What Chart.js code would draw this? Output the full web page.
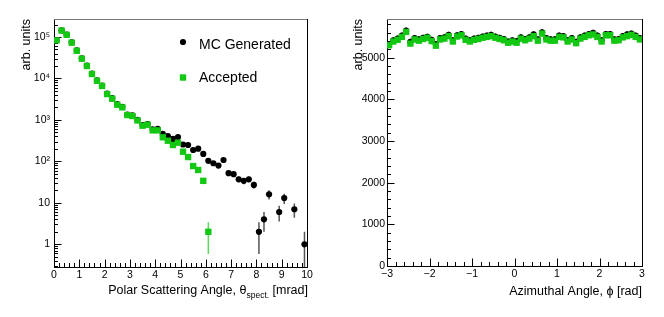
<!DOCTYPE html>
<html>
<head>
<meta charset="utf-8">
<script src="https://cdn.jsdelivr.net/npm/chart.js@4.4.0/dist/chart.umd.min.js"></script>
<style>
  html, body { margin: 0; padding: 0; background: #fff; }
  #wrap { position: relative; width: 664px; height: 317px; }
  .pane { position: absolute; top: 0; width: 332px; height: 317px; }
</style>
</head>
<body>
<div id="wrap">
  <div class="pane" style="left:0"><canvas id="polar"></canvas></div>
  <div class="pane" style="left:332px"><canvas id="phi"></canvas></div>
</div>
<script>
// polar scattering angle, 0.2 mrad bins
const polarCenters = [0.1,0.3,0.5,0.7,0.9,1.1,1.3,1.5,1.7,1.9,2.1,2.3,2.5,2.7,2.9,3.1,3.3,3.5,3.7,3.9,
  4.1,4.3,4.5,4.7,4.9,5.1,5.3,5.5,5.7,5.9,6.1,6.3,6.5,6.7,6.9,7.1,7.3,7.5,7.7,7.9,
  8.1,8.3,8.5,8.7,8.9,9.1,9.3,9.5,9.7,9.9];
const polarGenerated = [84000,145000,115000,74500,47500,30700,20500,13100,9000,6750,
  4320,3340,2400,2070,1350,1280,1005,750,795,590,
  610,460,409,347,385,255,248,188,202,151,
  103,90,79,108,52,49,37,34,37,27,
  2,4,16,null,6,13,null,7,null,1];
const polarAccepted = [83000,143000,113000,73000,46500,30000,20000,12800,8800,6600,
  4200,3250,2330,2010,1310,1240,970,725,767,560,
  560,381,315,248,282,171,127,77,62,34,
  2,null,null,null,null,null,null,null,null,null,
  null,null,null,null,null,null,null,null,null,null];
const polarXTicks = [0,1,2,3,4,5,6,7,8,9,10];
const polarYTicks = [1,10,100,1000,10000,100000];
const polarYLabels = ['1','10','10\u00b2','10\u00b3','10\u2074','10\u2075'];

// azimuthal angle, 0.1 rad bins
const phiCenters = [-2.95,-2.85,-2.75,-2.65,-2.55,-2.45,-2.35,-2.25,-2.15,-2.05,
  -1.95,-1.85,-1.75,-1.65,-1.55,-1.45,-1.35,-1.25,-1.15,-1.05,
  -0.95,-0.85,-0.75,-0.65,-0.55,-0.45,-0.35,-0.25,-0.15,-0.05,
  0.05,0.15,0.25,0.35,0.45,0.55,0.65,0.75,0.85,0.95,
  1.05,1.15,1.25,1.35,1.45,1.55,1.65,1.75,1.85,1.95,
  2.05,2.15,2.25,2.35,2.45,2.55,2.65,2.75,2.85,2.95];
const phiGenerated = [5330,5420,5460,5530,5650,5380,5470,5440,5480,5500,
  5430,5330,5470,5490,5550,5420,5540,5570,5460,5420,
  5460,5480,5510,5530,5550,5510,5480,5450,5390,5420,
  5400,5490,5450,5490,5560,5440,5610,5470,5440,5440,
  5530,5520,5420,5470,5380,5490,5530,5570,5600,5530,
  5420,5570,5570,5440,5450,5520,5560,5580,5530,5470];
const phiAccepted = [5300,5390,5430,5500,5620,5340,5440,5410,5450,5480,
  5400,5290,5440,5460,5520,5390,5510,5540,5430,5390,
  5430,5450,5480,5500,5520,5480,5450,5420,5360,5390,
  5360,5460,5420,5460,5520,5410,5580,5440,5410,5410,
  5500,5490,5390,5440,5350,5460,5500,5540,5560,5500,
  5390,5540,5540,5410,5420,5490,5520,5550,5500,5440];
const phiXTicks = [-3,-2,-1,0,1,2,3];
const phiYTicks = [0,1000,2000,3000,4000,5000];

const GREEN = '#12c812';
const FONT = "'Liberation Sans', Arial, Helvetica, sans-serif";

Chart.defaults.font.family = FONT;
Chart.defaults.color = '#000';
Chart.defaults.animation = false;

function points(xs, ys) {
  return xs.map((x, i) => ({ x: x, y: ys[i] })).filter(p => p.y !== null);
}

function linearMinor(min, max, step) {
  const out = [];
  for (let v = min; v <= max + 1e-9; v += step) out.push(v);
  return out;
}

function logMinor(min, max) {
  const out = [];
  for (let d = Math.floor(Math.log10(min)); d <= Math.ceil(Math.log10(max)); d++) {
    for (let k = 2; k <= 9; k++) {
      const v = k * Math.pow(10, d);
      if (v >= min && v <= max) out.push(v);
    }
  }
  return out;
}

// ROOT-like frame: inward ticks, top/right frame lines, Poisson error bars
function rootPlugin(cfg) {
  return {
    id: 'rootStyle',
    beforeDatasetsDraw(chart) {
      const { ctx, chartArea: a, scales: { x, y } } = chart;
      ctx.save();
      ctx.strokeStyle = '#000';
      ctx.lineWidth = 1;
      const tick = (scale, vals, len, horiz) => {
        ctx.beginPath();
        vals.forEach(v => {
          const p = Math.round(scale.getPixelForValue(v)) + 0.5;
          if (horiz) { ctx.moveTo(p, a.bottom); ctx.lineTo(p, a.bottom - len); }
          else { ctx.moveTo(a.left, p); ctx.lineTo(a.left + len, p); }
        });
        ctx.stroke();
      };
      tick(x, cfg.xMinor, 4, true);
      tick(x, cfg.xMajor, 7.5, true);
      tick(y, cfg.yMinor, 4, false);
      tick(y, cfg.yMajor, 7.5, false);

      ctx.strokeStyle = '#777';
      ctx.beginPath();
      ctx.moveTo(a.left, Math.round(a.top) + 0.5);
      ctx.lineTo(a.right, Math.round(a.top) + 0.5);
      ctx.stroke();
      ctx.strokeStyle = '#000';
      ctx.beginPath();
      ctx.moveTo(Math.round(a.right) + 0.5, a.top);
      ctx.lineTo(Math.round(a.right) + 0.5, a.bottom);
      ctx.stroke();

      chart.data.datasets.forEach(ds => {
        ctx.strokeStyle = ds.errColor;
        ctx.lineWidth = 1.5;
        ctx.beginPath();
        ds.data.forEach(p => {
          const e = Math.sqrt(p.y);
          const px = x.getPixelForValue(p.x);
          const lo = p.y - e > y.min ? y.getPixelForValue(p.y - e) : a.bottom;
          const hi = Math.max(y.getPixelForValue(p.y + e), a.top);
          ctx.moveTo(px, lo);
          ctx.lineTo(px, hi);
        });
        ctx.stroke();
      });
      ctx.restore();
    },
    afterDraw(chart) {
      const { ctx, chartArea: a } = chart;
      ctx.save();
      if (cfg.legend) {
        cfg.legend.forEach(item => {
          const ds = chart.data.datasets[item.index];
          ctx.fillStyle = ds.backgroundColor;
          if (ds.pointStyle === 'rect') {
            const s = ds.pointRadius * Math.SQRT1_2;
            ctx.fillRect(item.x - s, item.y - s, 2 * s, 2 * s);
          } else {
            ctx.beginPath();
            ctx.arc(item.x, item.y, ds.pointRadius, 0, Math.PI * 2);
            ctx.fill();
          }
          ctx.fillStyle = '#000';
          ctx.font = '14px ' + FONT;
          ctx.textBaseline = 'alphabetic';
          ctx.textAlign = 'left';
          ctx.fillText(item.label, item.x + 16, item.base);
        });
      }
      if (cfg.xTitle) {
        // right-aligned title with a subscript
        ctx.fillStyle = '#000';
        ctx.textBaseline = 'alphabetic';
        ctx.textAlign = 'left';
        let widths = cfg.xTitle.map(part => {
          ctx.font = part.size + 'px ' + FONT;
          return ctx.measureText(part.text).width;
        });
        let xpos = a.right + 1 - widths.reduce((s, w) => s + w, 0);
        cfg.xTitle.forEach((part, i) => {
          ctx.font = part.size + 'px ' + FONT;
          ctx.fillText(part.text, xpos, cfg.xTitleBase + part.shift);
          xpos += widths[i];
        });
      }
      ctx.restore();
    }
  };
}

const polarYMin = 0.283, polarYMax = 2.72e5;

new Chart(document.getElementById('polar'), {
  type: 'scatter',
  data: {
    datasets: [
      { label: 'Accepted', data: points(polarCenters, polarAccepted), pointStyle: 'rect',
        pointRadius: 4.5, pointBorderWidth: 0, backgroundColor: GREEN, borderColor: GREEN,
        errColor: '#5cd85c' },
      { label: 'MC Generated', data: points(polarCenters, polarGenerated), pointStyle: 'circle',
        pointRadius: 3.1, pointBorderWidth: 0, backgroundColor: '#000', borderColor: '#000',
        errColor: '#555' }
    ]
  },
  options: {
    responsive: true,
    maintainAspectRatio: false,
    layout: { padding: { left: 0, right: 25, top: 19, bottom: 0 } },
    plugins: { legend: { display: false }, tooltip: { enabled: false } },
    scales: {
      x: {
        type: 'linear', min: 0, max: 10,
        afterBuildTicks: s => { s.ticks = polarXTicks.map(v => ({ value: v })); },
        afterFit: s => { s.height = 50; },
        ticks: { font: { size: 10.5 }, padding: 2, maxRotation: 0, callback: v => String(v) },
        grid: { display: false, drawTicks: false },
        border: { display: true, color: '#000', width: 1 }
      },
      y: {
        type: 'logarithmic', min: polarYMin, max: polarYMax,
        afterBuildTicks: s => { s.ticks = polarYTicks.map(v => ({ value: v })); },
        afterFit: s => { s.width = 54; },
        ticks: { font: { size: 10.5 }, padding: 4,
          callback: v => polarYLabels[polarYTicks.indexOf(v)] },
        grid: { display: false, drawTicks: false },
        border: { display: true, color: '#000', width: 1 },
        title: { display: true, text: 'arb. units', align: 'end', font: { size: 12.5 },
          padding: { top: 19.5, bottom: 0 } }
      }
    }
  },
  plugins: [rootPlugin({
    xMajor: polarXTicks, xMinor: linearMinor(0, 10, 0.2),
    yMajor: polarYTicks, yMinor: logMinor(polarYMin, polarYMax),
    legend: [
      { index: 1, label: 'MC Generated', x: 183, y: 42, base: 48.5 },
      { index: 0, label: 'Accepted', x: 183, y: 77.5, base: 81.5 }
    ],
    xTitle: [
      { text: 'Polar Scattering Angle, \u03b8', size: 12.5, shift: 0 },
      { text: 'spect.', size: 8.5, shift: 4 },
      { text: ' [mrad]', size: 12.5, shift: 0 }
    ],
    xTitleBase: 294
  })]
});

new Chart(document.getElementById('phi'), {
  type: 'scatter',
  data: {
    datasets: [
      { label: 'Accepted', data: points(phiCenters, phiAccepted), pointStyle: 'rect',
        pointRadius: 4.5, pointBorderWidth: 0, backgroundColor: GREEN, borderColor: GREEN,
        errColor: '#5cd85c' },
      { label: 'MC Generated', data: points(phiCenters, phiGenerated), pointStyle: 'circle',
        pointRadius: 3.1, pointBorderWidth: 0, backgroundColor: '#000', borderColor: '#000',
        errColor: '#555' }
    ]
  },
  options: {
    responsive: true,
    maintainAspectRatio: false,
    layout: { padding: { left: 0, right: 22, top: 19, bottom: 0 } },
    plugins: { legend: { display: false }, tooltip: { enabled: false } },
    scales: {
      x: {
        type: 'linear', min: -3, max: 3,
        afterBuildTicks: s => { s.ticks = phiXTicks.map(v => ({ value: v })); },
        afterFit: s => { s.height = 51; },
        ticks: { font: { size: 10.5 }, padding: 2, maxRotation: 0,
          callback: v => (v < 0 ? '\u2212' + Math.abs(v) : String(v)) },
        grid: { display: false, drawTicks: false },
        border: { display: true, color: '#000', width: 1 },
        title: { display: true, text: 'Azimuthal Angle, \u03d5 [rad]', align: 'end',
          font: { size: 12.5 }, padding: { top: 0, bottom: 18 } }
      },
      y: {
        type: 'linear', min: 0, max: 5930,
        afterBuildTicks: s => { s.ticks = phiYTicks.map(v => ({ value: v })); },
        afterFit: s => { s.width = 55; },
        ticks: { font: { size: 10.5 }, padding: 2, callback: v => String(v) },
        grid: { display: false, drawTicks: false },
        border: { display: true, color: '#000', width: 1 },
        title: { display: true, text: 'arb. units', align: 'end', font: { size: 12.5 },
          padding: { top: 19.5, bottom: 0 } }
      }
    }
  },
  plugins: [rootPlugin({
    xMajor: phiXTicks, xMinor: linearMinor(-3, 3, 0.2),
    yMajor: phiYTicks, yMinor: linearMinor(0, 5930, 200)
  })]
});
</script>
</body>
</html>
